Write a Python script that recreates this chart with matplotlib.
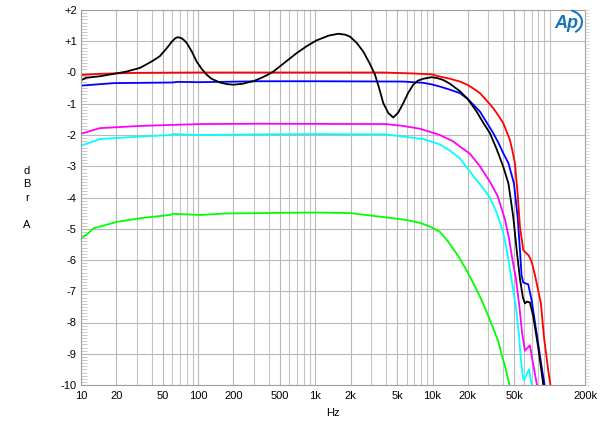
import numpy as np
import matplotlib
matplotlib.use('Agg')
import matplotlib.pyplot as plt
from matplotlib.ticker import FixedLocator, NullFormatter, NullLocator
from matplotlib.patches import Arc

plt.rcParams['font.family'] = ['Liberation Sans', 'DejaVu Sans']

# frequency response readings (Hz, dB)
red_f = [10, 15, 30, 100, 1000, 3800, 6800, 9800, 11560, 14080, 17140, 20000, 22500, 25370, 29000,
         32960, 36500, 40110, 43000, 45740, 48000, 50460, 53230, 55710, 59450, 61420, 66000, 70000,
         75000, 84120, 89250, 97080, 102400]
red_db = [-0.08, -0.04, -0.01, 0.0, 0.0, 0.0, -0.03, -0.06, -0.13, -0.2, -0.29, -0.4, -0.52, -0.66, -0.9,
          -1.14, -1.38, -1.62, -1.9, -2.16, -2.5, -2.9, -3.87, -4.94, -5.68, -5.74, -5.85, -6.05,
          -6.5, -7.39, -8.46, -9.53, -10.1]

blue_f = [10, 19, 60, 67, 100, 337, 1000, 5625, 8336, 9824, 11560, 14080, 17140, 20000, 25370, 29000,
          32960, 36500, 40110, 44430, 49500, 53230, 55710, 57540, 59450, 65570, 70100, 77310, 85270, 91000]
blue_db = [-0.42, -0.34, -0.32, -0.3, -0.31, -0.28, -0.28, -0.29, -0.33, -0.38, -0.45, -0.55, -0.66,
           -0.85, -1.25, -1.6, -1.94, -2.25, -2.58, -2.9, -3.55, -4.62, -5.68, -6.5, -6.72, -6.78,
           -7.29, -8.35, -9.42, -10.06]

black_f = [10, 11, 14.5, 24.5, 32, 40, 47, 54, 60, 64, 67, 72, 76, 80, 88, 97, 107, 118, 130, 153, 175,
           200, 240, 277, 300, 337, 380, 438, 540, 692, 850, 1026, 1300, 1568, 1800, 1973, 2250, 2563,
           2900, 3227, 3500, 3797, 4200, 4621, 5100, 5625, 6200, 6845, 7500, 8336, 9824, 11000, 12340,
           14080, 17140, 20000, 23780, 27000, 30880, 35240, 40000, 44430, 48830, 52240, 55710, 59000,
           61420, 64000, 67760, 72300, 79770, 87950, 90000]
black_db = [-0.25, -0.17, -0.12, 0.03, 0.15, 0.35, 0.52, 0.78, 1.0, 1.1, 1.13, 1.1, 1.03, 0.94, 0.68,
            0.35, 0.12, -0.07, -0.2, -0.32, -0.37, -0.39, -0.36, -0.3, -0.27, -0.19, -0.1, 0.03, 0.3,
            0.62, 0.85, 1.03, 1.18, 1.24, 1.21, 1.15, 0.95, 0.67, 0.3, -0.07, -0.5, -0.98, -1.3, -1.44,
            -1.28, -0.98, -0.65, -0.39, -0.26, -0.2, -0.15, -0.18, -0.24, -0.36, -0.6, -0.85, -1.25,
            -1.6, -1.94, -2.45, -3.0, -3.55, -4.62, -5.68, -6.6, -7.2, -7.39, -7.33, -7.36, -7.8, -8.8,
            -9.96, -10.3]

magenta_f = [10, 14.5, 31.9, 103.6, 337, 4000, 5625, 7808, 11560, 14930, 17140, 20850, 25370, 30880,
             35930, 41480, 44880, 47600, 51500, 55140, 57940, 61420, 67760, 71900, 77800]
magenta_db = [-1.96, -1.78, -1.71, -1.65, -1.64, -1.65, -1.71, -1.8, -2.0, -2.2, -2.37, -2.6, -3.0,
              -3.5, -3.95, -4.7, -5.3, -5.9, -6.6, -7.5, -8.3, -8.9, -8.73, -9.3, -10.0]

cyan_f = [10, 14.5, 31.9, 57.5, 62, 100, 337, 1000, 4000, 8336, 11560, 14080, 17140, 22120, 26920,
          30880, 35430, 39930, 43150, 45740, 48530, 51500, 54620, 56790, 59040, 60260, 66500, 70510]
cyan_db = [-2.34, -2.13, -2.05, -2.0, -1.97, -2.0, -1.98, -1.97, -1.98, -2.13, -2.3, -2.5, -2.75,
           -3.3, -3.7, -4.0, -4.5, -5.1, -5.7, -6.3, -6.9, -7.5, -8.4, -9.2, -9.75, -9.85, -9.5, -10.05]

green_f = [10, 11.5, 12.7, 20.2, 34, 57.5, 60, 103.6, 175, 337, 1000, 2000, 2563, 4300, 6000, 8000,
           10000, 11560, 13500, 16060, 19000, 22000, 26000, 30000, 33000, 36370, 39000, 42290, 44000, 46000]
green_db = [-5.31, -5.15, -4.99, -4.78, -4.65, -4.56, -4.52, -4.56, -4.51, -4.5, -4.48, -4.5, -4.55,
            -4.65, -4.72, -4.82, -4.97, -5.1, -5.4, -5.8, -6.25, -6.7, -7.25, -7.8, -8.2, -8.6, -9.05,
            -9.5, -9.8, -10.1]

xticks = [10, 20, 50, 100, 200, 500, 1000, 2000, 5000, 10000, 20000, 50000, 200000]
xlabels = ['10', '20', '50', '100', '200', '500', '1k', '2k', '5k', '10k', '20k', '50k', '200k']
yticks = list(range(-10, 3))
ylabels = ['+2' if v == 2 else '+1' if v == 1 else '-0' if v == 0 else str(v) for v in yticks]

fig = plt.figure(figsize=(6, 4.28), dpi=100)
ax = fig.add_axes([81 / 600, 43 / 428, 504 / 600, 375 / 428])
ax.set_xscale('log')
ax.set_xlim(10, 200000)
ax.set_ylim(-10, 2)

# grid: every 1..9 per decade vertically, every dB horizontally
minor_x = [m * 10 ** e for e in range(1, 6) for m in range(1, 10) if m * 10 ** e <= 200000]
ax.xaxis.set_major_locator(FixedLocator(xticks))
ax.xaxis.set_minor_locator(FixedLocator(minor_x))
ax.xaxis.set_minor_formatter(NullFormatter())
ax.set_xticklabels(xlabels)
ax.set_yticks(yticks)
ax.set_yticklabels(ylabels)
ax.yaxis.set_minor_locator(FixedLocator(np.arange(-10, 2.001, 0.1)))
ax.grid(True, which='major', color='#b8b8b8', lw=0.8)
ax.grid(True, which='minor', axis='x', color='#c4c4c4', lw=0.8)
ax.tick_params(axis='x', which='both', length=0, labelsize=8, pad=4)
ax.tick_params(axis='y', which='major', length=0, labelsize=8, pad=3)
ax.tick_params(axis='y', which='minor', direction='in', length=4, width=0.6, color='#c0c0c0')
for s in ax.spines.values():
    s.set_color('#a0a0a0')

# small outside ticks on the right edge
ax2 = ax.twinx()
ax2.set_ylim(-10, 2)
ax2.yaxis.set_major_locator(NullLocator())
ax2.yaxis.set_minor_locator(FixedLocator(np.arange(-10, 2.001, 0.1)))
ax2.tick_params(axis='y', which='minor', direction='out', length=3, width=0.6, color='#d0d0d0')
for s in ax2.spines.values():
    s.set_visible(False)

lw = 1.3
ax.plot(green_f, green_db, color='#00ff00', lw=lw)
ax.plot(cyan_f, cyan_db, color='#00ffff', lw=lw)
ax.plot(magenta_f, magenta_db, color='#ff00ff', lw=lw)
ax.plot(blue_f, blue_db, color='#0000ff', lw=lw)
ax.plot(red_f, red_db, color='#ff0000', lw=lw)
ax.plot(black_f, black_db, color='black', lw=lw)

ax.set_xlabel('Hz', fontsize=8, labelpad=5)
fig.text(27 / 600, 1 - 198 / 428, 'd\nB\nr\n\nA', ha='center', va='center', fontsize=8,
         linespacing=1.45)

# Ap logo
fig.text(566 / 600, 1 - 23 / 428, 'Ap', color='#1a75bb', fontsize=13, style='italic',
         fontweight='bold', ha='center', va='center')
arc = Arc((567 / 600, 1 - 22 / 428), 30 / 600, 24 / 428, theta1=-60, theta2=75,
          transform=fig.transFigure, color='#1a75bb', lw=1.5)
fig.add_artist(arc)

fig.savefig('out.png', dpi=100)
